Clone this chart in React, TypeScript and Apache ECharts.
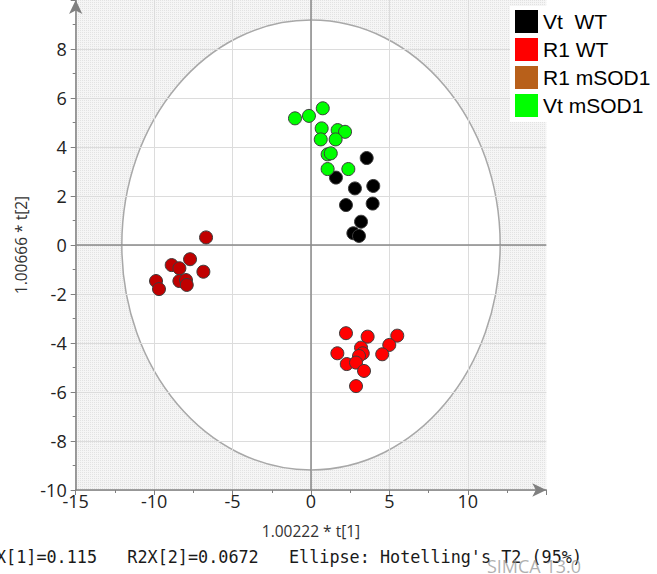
import React, { useEffect, useRef } from "react";
import * as echarts from "echarts";

// ---- data ----
const SERIES_NAMES = ["Vt  WT", "R1 WT", "R1 mSOD1", "Vt mSOD1"];
const SERIES_COLORS = ["#000000", "#ff0000", "#c00000", "#00ff00"];
const LEGEND_COLORS = ["#000000", "#ff0000", "#b8601a", "#00ff00"];

const vtWT: [number, number][] = [
  [3.55, 3.55], [1.59, 2.75], [2.8, 2.31], [3.97, 2.41], [2.23, 1.63],
  [3.93, 1.69], [3.19, 0.95], [2.7, 0.48], [3.06, 0.37],
];
const r1WT: [number, number][] = [
  [2.23, -3.6], [3.61, -3.74], [5.5, -3.7], [4.99, -4.08], [3.19, -4.19],
  [1.68, -4.42], [4.54, -4.46], [3.3, -4.42], [3.06, -4.53], [2.28, -4.86],
  [2.87, -4.8], [3.38, -5.14], [2.87, -5.76],
];
const r1mSOD1: [number, number][] = [
  [-6.69, 0.31], [-7.71, -0.58], [-8.88, -0.82], [-8.39, -0.95], [-6.86, -1.09],
  [-9.88, -1.47], [-9.69, -1.8], [-8.39, -1.47], [-7.97, -1.43], [-7.92, -1.63],
];
const vtmSOD1: [number, number][] = [
  [-1.02, 5.17], [-0.13, 5.27], [0.75, 5.58], [0.68, 4.76], [0.62, 4.31],
  [1.7, 4.69], [2.17, 4.62], [1.57, 4.31], [1.06, 3.7], [1.26, 3.74],
  [1.06, 3.1], [2.38, 3.1],
];
const SERIES_DATA = [vtWT, r1WT, r1mSOD1, vtmSOD1];

const X_MIN = -15, X_MAX = 15, X_INTERVAL = 5;
const Y_MIN = -10, Y_MAX = 10, Y_INTERVAL = 2;
const ELLIPSE_RADII = [12.06, 9.18];

const X_NAME = "1.00222 * t[1]";
const Y_NAME = "1.00666 * t[2]";
const FOOTER = "R2X[1]=0.115   R2X[2]=0.0672   Ellipse: Hotelling's T2 (95%)";
const WATERMARK = "SIMCA 13.0";

function makeTexture(): string {
  const c = document.createElement("canvas");
  c.width = 2; c.height = 2;
  const g = c.getContext("2d")!;
  g.fillStyle = "#f5f5f5"; g.fillRect(0, 0, 2, 2);
  g.fillStyle = "#e2e2e2"; g.fillRect(0, 0, 1, 1);
  return c.toDataURL();
}

export default function App() {
  const ref = useRef<HTMLDivElement>(null);
  useEffect(() => {
    const chart = echarts.init(ref.current!, null, { renderer: "svg" });
    const tex = makeTexture();
    const axisCommon = {
      type: "value" as const,
      z: 1,
      axisLine: {
        show: true, onZero: false,
        symbol: ["none", "arrow"], symbolSize: [10, 14],
        lineStyle: { color: "#808080", width: 1.5 },
      },
      axisTick: { show: true, length: 5, lineStyle: { color: "#808080" } },
      minorTick: { show: true, splitNumber: 2, length: 3, lineStyle: { color: "#808080" } },
      splitLine: { show: true, showMaxLine: false, lineStyle: { color: "#dcdcdc", width: 1 } },
      axisLabel: { showMaxLabel: false, color: "#222", fontSize: 18, fontFamily: "Open Sans" },
      nameLocation: "middle" as const,
      nameTextStyle: { color: "#333", fontSize: 15.5, fontFamily: "Open Sans" },
    };
    const option: any = {
      animation: false,
      grid: { left: 75.7, right: 110.7, top: 0, bottom: 84, containLabel: false },
      xAxis: {
        ...axisCommon, min: X_MIN, max: X_MAX, interval: X_INTERVAL,
        name: X_NAME, nameGap: 33,
        axisLabel: { ...axisCommon.axisLabel, margin: 2 },
      },
      yAxis: {
        ...axisCommon, min: Y_MIN, max: Y_MAX, interval: Y_INTERVAL,
        name: Y_NAME, nameGap: 45,
        axisLabel: { ...axisCommon.axisLabel, margin: 9 },
      },
      legend: {
        orient: "vertical", left: 510, top: 6, padding: [4, 6, 5, 5],
        backgroundColor: "#ffffff", itemWidth: 23, itemHeight: 23, itemGap: 5,
        icon: "rect", selectedMode: false,
        itemStyle: { borderWidth: 0 },
        textStyle: { fontSize: 21, fontFamily: "Liberation Sans", color: "#000" },
        data: SERIES_NAMES.map((n, i) => ({ name: n, itemStyle: { color: LEGEND_COLORS[i], borderWidth: 0 } })),
      },
      graphic: [
        {
          type: "text", x: 582, y: 557,
          style: {
            text: FOOTER, fill: "#1a1a1a", fontSize: 16.8, fontFamily: "DejaVu Sans Mono",
            align: "right", verticalAlign: "middle",
          },
          z: 10,
        },
        {
          type: "text", x: 581, y: 566,
          style: {
            text: WATERMARK, fill: "rgba(150,150,150,0.75)", fontSize: 18, fontFamily: "Open Sans",
            align: "right", verticalAlign: "middle",
          },
          z: 11,
        },
      ],
      series: [
        {
          type: "custom", name: "bg", z: 0, silent: true, data: [[0, 0]],
          renderItem: (_p: any, api: any) => {
            const tl = api.coord([X_MIN, Y_MAX]);
            const br = api.coord([X_MAX, Y_MIN]);
            const c = api.coord([0, 0]);
            const s = api.size([ELLIPSE_RADII[0], ELLIPSE_RADII[1]]);
            return {
              type: "group",
              children: [
                { type: "rect", shape: { x: tl[0], y: tl[1], width: br[0] - tl[0], height: br[1] - tl[1] },
                  style: { fill: { image: tex, repeat: "repeat" } } },
                { type: "ellipse", shape: { cx: c[0], cy: c[1], rx: s[0], ry: s[1] },
                  style: { fill: "#ffffff", stroke: "#a8a8a8", lineWidth: 1.5 } },
              ],
            };
          },
        },
        {
          type: "custom", name: "origin", z: 1.5, silent: true, data: [[0, 0]],
          renderItem: (_p: any, api: any) => {
            const a = api.coord([0, Y_MIN]); const b = api.coord([0, Y_MAX]);
            const l = api.coord([X_MIN, 0]); const r = api.coord([X_MAX, 0]);
            return {
              type: "group",
              children: [
                { type: "line", shape: { x1: a[0], y1: a[1], x2: b[0], y2: b[1] }, style: { stroke: "#8a8a8a", lineWidth: 1.5 } },
                { type: "line", shape: { x1: l[0], y1: l[1], x2: r[0], y2: r[1] }, style: { stroke: "#8a8a8a", lineWidth: 1.5 } },
              ],
            };
          },
        },
        ...SERIES_NAMES.map((n, i) => ({
          type: "scatter", name: n, z: 3, data: SERIES_DATA[i], symbol: "circle", symbolSize: 13,
          itemStyle: { color: SERIES_COLORS[i], borderColor: "#3c3c3c", borderWidth: 1, opacity: 1 },
        })),
      ],
    };
    chart.setOption(option);
    return () => chart.dispose();
  }, []);
  return <div ref={ref} style={{ position: "absolute", left: 0, top: 0, width: 657, height: 574 }} />;
}
